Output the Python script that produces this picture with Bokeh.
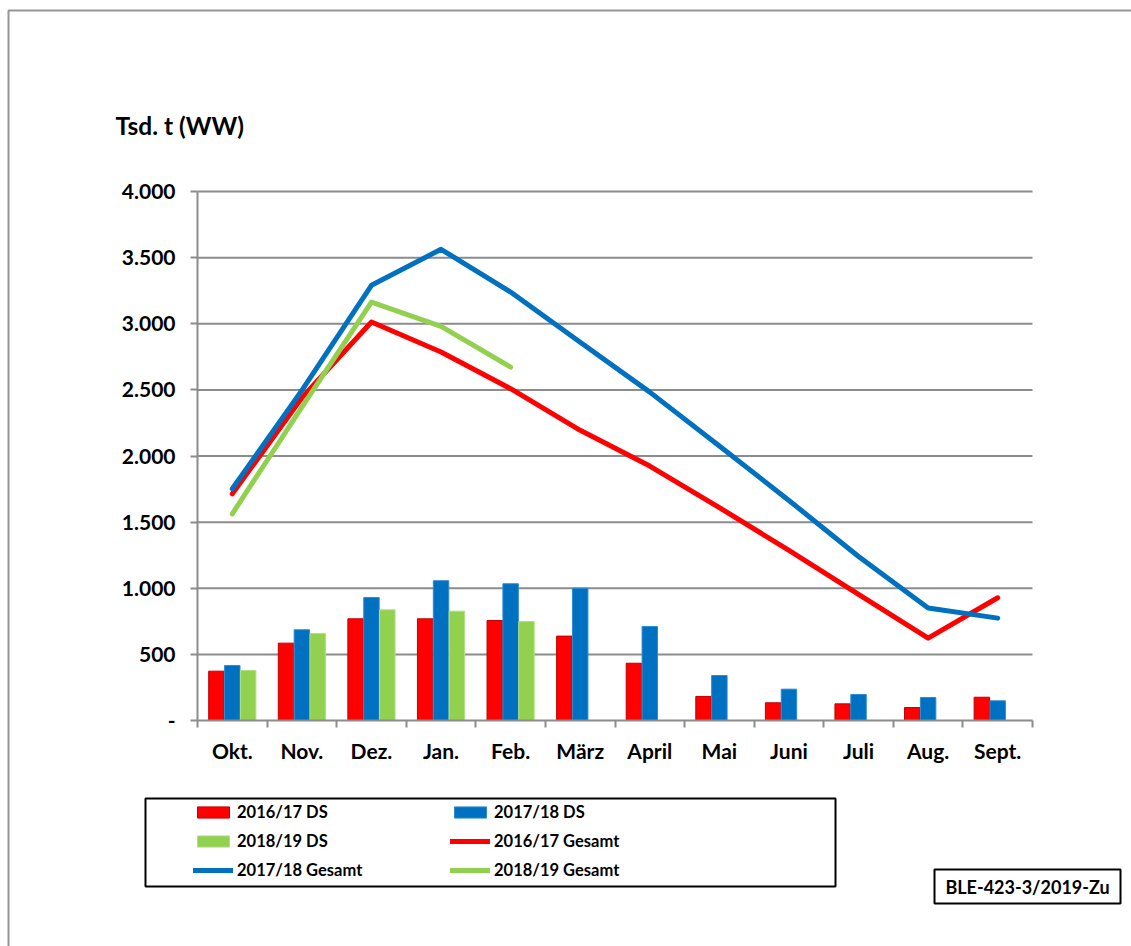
import numpy as np
from bokeh.plotting import figure
from bokeh.models import FixedTicker, Legend, LegendItem, BoxAnnotation, Label, Range1d
from bokeh.embed import file_html
from bokeh.resources import INLINE

months = ["Okt.", "Nov.", "Dez.", "Jan.", "Feb.", "März", "April", "Mai", "Juni", "Juli", "Aug.", "Sept."]
ds_2016_17 = [373, 585, 769, 769, 756, 638, 433, 182, 134, 126, 98, 176]
ds_2017_18 = [416, 686, 930, 1057, 1034, 1000, 711, 340, 237, 197, 174, 149]
ds_2018_19 = [378, 658, 837, 827, 749]
ges_2016_17 = [1714, 2440, 3013, 2786, 2509, 2194, 1924, 1610, 1286, 953, 623, 928]
ges_2017_18 = [1752, 2496, 3291, 3563, 3240, 2860, 2483, 2075, 1664, 1240, 850, 774]
ges_2018_19 = [1563, 2370, 3164, 2980, 2672]
y_ticks = [0, 500, 1000, 1500, 2000, 2500, 3000, 3500, 4000]
y_tick_labels = ["-", "500", "1.000", "1.500", "2.000", "2.500", "3.000", "3.500", "4.000"]

RED = "#FF0000"
BLUE = "#0070C0"
GREEN = "#92D050"
GRID = "#8C8C8C"
FONT = "Lato"

# canvas and plot-area geometry (pixels)
W, H = 1131, 946
PX0, PX1 = 197, 1032      # plot area left/right
PY0, PY1 = 720, 191       # plot area bottom/top (from canvas top)
YMAX = y_ticks[-1]
NX = len(months)

sx = (PX1 - PX0) / NX
sy = (PY0 - PY1) / YMAX
x_range = Range1d(-PX0 / sx, NX + (W - PX1) / sx)
y_range = Range1d(-(H - PY0) / sy, YMAX + PY1 / sy)

p = figure(width=W, height=H, output_backend="svg", toolbar_location=None,
           x_range=x_range, y_range=y_range,
           min_border_left=0, min_border_right=0, min_border_top=0, min_border_bottom=0)
p.outline_line_color = None
p.background_fill_color = "white"
p.border_fill_color = "white"

xc = np.arange(NX) + 0.5
bw = 0.222
off = 0.228

# horizontal gridlines
gy = y_ticks[1:]
p.segment(x0=[0] * len(gy), x1=[NX] * len(gy), y0=gy, y1=gy, line_color=GRID, line_width=2)

r1 = p.vbar(x=xc - off, top=ds_2016_17, width=bw, fill_color=RED, line_color="#C00000", line_width=1)
r2 = p.vbar(x=xc, top=ds_2017_18, width=bw, fill_color=BLUE, line_color="#2E8BD0", line_width=1)
r3 = p.vbar(x=xc[:len(ds_2018_19)] + off, top=ds_2018_19, width=bw, fill_color=GREEN, line_color="#B0E080", line_width=1)

l1 = p.line(xc, ges_2016_17, line_color=RED, line_width=5, line_cap="round", line_join="round")
l2 = p.line(xc, ges_2017_18, line_color=BLUE, line_width=5, line_cap="round", line_join="round")
l3 = p.line(xc[:len(ges_2018_19)], ges_2018_19, line_color=GREEN, line_width=5, line_cap="round", line_join="round")

# axes
xa = p.xaxis[0]
xa.fixed_location = 0
xa.bounds = (0, NX)
xa.ticker = FixedTicker(ticks=list(xc), minor_ticks=list(range(NX + 1)))
xa.major_label_overrides = {float(x): m for x, m in zip(xc, months)}
xa.major_tick_line_color = None
xa.minor_tick_line_color = GRID
xa.minor_tick_line_width = 2
xa.minor_tick_in = 0
xa.minor_tick_out = 7
xa.axis_line_color = GRID
xa.axis_line_width = 2
xa.major_label_text_font = FONT
xa.major_label_text_font_style = "bold"
xa.major_label_text_font_size = "21px"
xa.major_label_text_color = "black"
xa.major_label_standoff = 10

ya = p.yaxis[0]
ya.fixed_location = 0
ya.bounds = (0, YMAX)
ya.ticker = FixedTicker(ticks=y_ticks, minor_ticks=[])
ya.major_label_overrides = {t: s for t, s in zip(y_ticks, y_tick_labels)}
ya.major_tick_line_color = GRID
ya.major_tick_line_width = 2
ya.major_tick_in = 0
ya.major_tick_out = 7
ya.axis_line_color = GRID
ya.axis_line_width = 2
ya.major_label_text_font = FONT
ya.major_label_text_font_style = "bold"
ya.major_label_text_font_size = "21px"
ya.major_label_text_color = "black"
ya.major_label_standoff = 15

p.xgrid.grid_line_color = None
p.ygrid.grid_line_color = None

def box(left, right, top, bottom, color, lw):
    # screen coordinates given from the canvas top-left; converted to frame (bottom-left) units
    return BoxAnnotation(left=left, right=right, top=H - top, bottom=H - bottom,
                         left_units="screen", right_units="screen", top_units="screen", bottom_units="screen",
                         fill_color=None, fill_alpha=0, line_color=color, line_alpha=1.0,
                         line_width=lw, level="overlay")

# outer border (left/top visible)
p.add_layout(box(8, 4000, 10, 4000, "#959595", 2))

# y axis title
p.add_layout(Label(x=115, y=H - 125, x_units="screen", y_units="screen", text="Tsd. t (WW)",
                   text_font=FONT, text_font_style="bold", text_font_size="24.5px",
                   text_color="black", text_baseline="alphabetic", text_align="left"))

# legend box
p.add_layout(box(145, 835, 798, 886, "black", 2))

legend = Legend(items=[
    LegendItem(label="2016/17 DS", renderers=[r1]),
    LegendItem(label="2017/18 DS", renderers=[r2]),
    LegendItem(label="2018/19 DS", renderers=[r3]),
    LegendItem(label="2016/17 Gesamt", renderers=[l1]),
    LegendItem(label="2017/18 Gesamt", renderers=[l2]),
    LegendItem(label="2018/19 Gesamt", renderers=[l3]),
], orientation="horizontal", ncols=2, location=(193, H - 880),
    glyph_width=40, glyph_height=14, label_standoff=4, label_width=204, label_height=20,
    spacing=9, padding=0, margin=0, border_line_color=None, background_fill_alpha=0,
    label_text_font=FONT, label_text_font_style="bold", label_text_font_size="16.5px",
    label_text_color="black")
p.add_layout(legend, "center")

# source note box
p.add_layout(box(934, 1120, 869, 903, "black", 2))
p.add_layout(Label(x=1027, y=H - 886, x_units="screen", y_units="screen", text="BLE-423-3/2019-Zu",
                   text_font=FONT, text_font_style="bold", text_font_size="18px",
                   text_color="black", text_baseline="middle", text_align="center"))

open("out.html", "w").write(file_html(p, INLINE))
